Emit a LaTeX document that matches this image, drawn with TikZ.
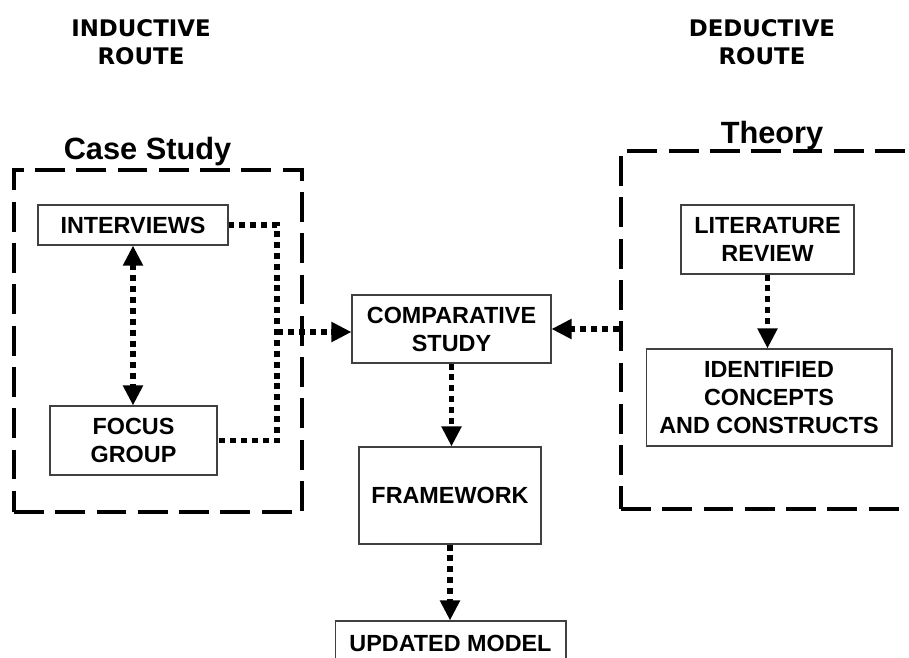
\documentclass[tikz,border=0pt]{standalone}
\usepackage{fontspec}
\newfontfamily\boxfont{Liberation Sans}
\newfontfamily\routefont{DejaVu Sans}
\usepackage{tikz}
\usetikzlibrary{shapes,arrows.meta,positioning,calc}

\begin{document}
\begin{tikzpicture}[
    x=0.02cm, y=-0.02cm,
    every node/.style={align=center, inner sep=0pt},
    box/.style={draw=black!75, line width=0.6pt,
      font=\boxfont\bfseries\fontsize{13.3}{16}\selectfont},
    frame/.style={draw, line width=2.5pt, dash pattern=on 17pt off 6.5pt},
    title/.style={font=\boxfont\bfseries\fontsize{17.5}{20}\selectfont, anchor=base},
    route/.style={font=\routefont\bfseries\fontsize{13}{16}\selectfont},
    dotline/.style={line width=3.1pt, dash pattern=on 3.4pt off 2.8pt},
    dotarrow/.style={dotline, -{Triangle[length=11.4pt, width=10.8pt]}},
    dotboth/.style={dotline, {Triangle[length=11.4pt, width=10.8pt]}-{Triangle[length=11.4pt, width=10.8pt]}}
  ]
    \useasboundingbox (0,0) rectangle (909,657);
    % Routes
    \node[route] (ind) at (141,42.5) {INDUCTIVE\\ROUTE};
    \node[route] (ded) at (762,42.5) {DEDUCTIVE\\ROUTE};
    % Frames
    \node[frame, minimum width=5.76cm, minimum height=6.84cm] (casebox) at (158,341) {};
    \node[frame, minimum width=6.28cm, minimum height=7.16cm] (theorybox) at (778,330) {};
    \node[title] (casetitle) at (147.5,159) {Case Study};
    \node[title] (theorytitle) at (772,143) {Theory};
    % Boxes
    \node[box, minimum width=3.8cm, minimum height=0.8cm] (int) at (133,225) {INTERVIEWS};
    \node[box, minimum width=3.34cm, minimum height=1.38cm] (fg) at (133.5,440.5) {FOCUS\\GROUP};
    \node[box, minimum width=3.98cm, minimum height=1.36cm] (comp) at (451.5,329) {COMPARATIVE\\STUDY};
    \node[box, minimum width=3.64cm, minimum height=1.94cm] (fw) at (450,495.5) {FRAMEWORK};
    \node[box, minimum width=4.62cm, minimum height=0.88cm] (upd) at (450.5,643) {UPDATED MODEL};
    \node[box, minimum width=3.46cm, minimum height=1.38cm] (lit) at (767.5,239.5) {LITERATURE\\REVIEW};
    \node[box, minimum width=4.92cm, minimum height=1.94cm] (idc) at (769,397.5) {IDENTIFIED\\CONCEPTS\\AND CONSTRUCTS};
    % Dotted connectors
    \coordinate (jn) at (277,332);
    \draw[dotline] (int.east) -| (jn) |- (fg.east);
    \draw[dotarrow] (jn) -- (jn -| comp.west);
    \draw[dotboth] (int.south) -- (fg.north -| int.south);
    \draw[dotarrow] (theorybox.west |- comp.east) -- (comp.east);
    \draw[dotarrow] (lit.south) -- (lit.south |- idc.north);
    \draw[dotarrow] (comp.south) -- (comp.south |- fw.north);
    \draw[dotarrow] (fw.south) -- (fw.south |- upd.north);
  \end{tikzpicture}
\end{document}
